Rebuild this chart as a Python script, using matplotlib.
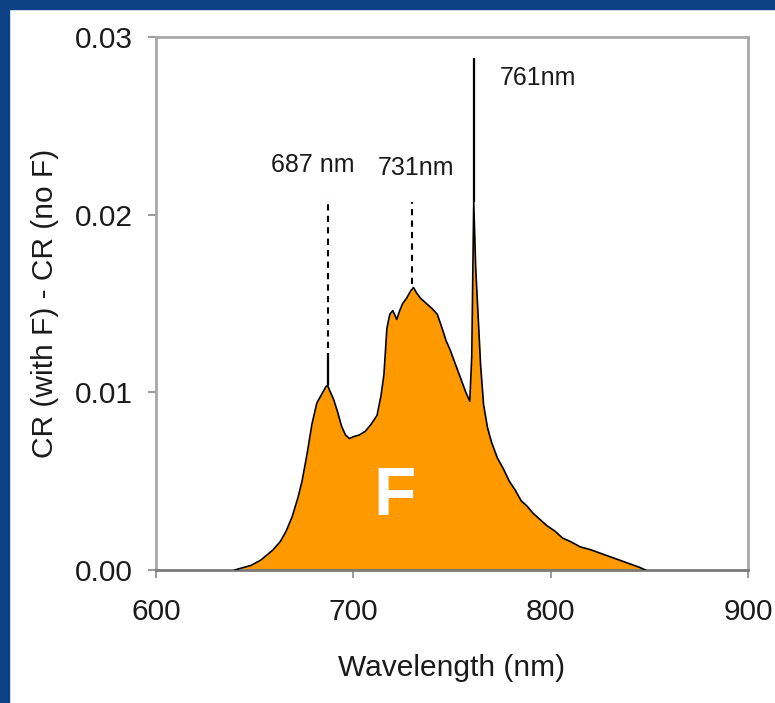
import numpy as np
import matplotlib
matplotlib.use("Agg")
import matplotlib.pyplot as plt
from matplotlib.patches import Rectangle

plt.rcParams['font.family'] = ['Liberation Sans', 'DejaVu Sans']

# fluorescence difference spectrum
wavelength = [640, 643, 648, 653, 659, 663, 666, 669, 672, 674, 676.5, 679, 681.5,
              684, 686, 687, 688, 690, 692, 694, 696, 698, 700, 703, 706, 709, 712,
              714, 715.5, 717, 718.5, 720, 722, 723.5, 725, 727, 729, 730.5, 732,
              734, 737, 740, 742.5, 745, 747, 749, 751, 753, 755, 757, 759, 760,
              761, 762, 763, 764.5, 766, 768, 770, 773, 776, 779, 782, 785, 788,
              791, 795, 798, 802, 806, 810, 815, 820, 825, 830, 835, 840, 845, 848]
cr_diff = [0.0, 0.1, 0.25, 0.55, 1.1, 1.6, 2.2, 3.0, 4.1, 5.0, 6.5, 8.2, 9.4,
           9.9, 10.3, 10.4, 10.1, 9.6, 8.9, 8.1, 7.6, 7.4, 7.5, 7.6, 7.8, 8.2, 8.7,
           9.8, 11.0, 13.6, 14.4, 14.6, 14.1, 14.6, 15.0, 15.3, 15.7, 15.9, 15.6,
           15.3, 15.0, 14.7, 14.4, 13.6, 12.9, 12.4, 11.8, 11.2, 10.6, 10.0, 9.5, 12.0,
           20.7, 17.0, 14.8, 11.5, 9.3, 8.0, 7.2, 6.3, 5.7, 5.0, 4.5, 3.9, 3.6,
           3.2, 2.8, 2.5, 2.2, 1.8, 1.6, 1.3, 1.15, 0.95, 0.75, 0.55, 0.35, 0.15, 0.0]
cr_diff = np.array(cr_diff) / 1000.0

# narrow spikes of the black line above the filled area
spike_nm = [687, 761]
spike_base = [0.0104, 0.0207]
spike_top = [0.0122, 0.0288]

# dashed markers and their labels
peak_nm = [687, 729.5]
peak_lo = [0.0125, 0.0161]
peak_hi = [0.0209, 0.0207]
labels = ['687 nm', '731nm', '761nm']
label_x = [679.6, 731.8, 793.6]
label_y = [0.0228, 0.0226, 0.0277]

fig = plt.figure(figsize=(7.75, 7.03), dpi=100)
ax = fig.add_axes([0.2013, 0.1892, 0.7639, 0.7582])

ax.fill_between(wavelength, 0, cr_diff, color='#ff9900', lw=0, zorder=2)
ax.plot(wavelength, cr_diff, color='black', lw=1.2, zorder=3)
ax.vlines(spike_nm, spike_base, spike_top, color='black', lw=1.6, zorder=3)
ax.vlines(peak_nm, peak_lo, peak_hi, color='black', lw=1.5,
          linestyles=(0, (3, 2.5)), zorder=3)

for t, x, y in zip(labels, label_x, label_y):
    ax.text(x, y, t, ha='center', va='center', fontsize=18, color='#1a1a1a')

ax.text(721, 0.0041, 'F', ha='center', va='center', fontsize=50,
        fontweight='bold', color='white', zorder=4)

ax.set_xlim(600, 900)
ax.set_ylim(0, 0.03)
ax.set_xticks([600, 700, 800, 900])
ax.set_yticks([0, 0.01, 0.02, 0.03])
ax.set_yticklabels(['0.00', '0.01', '0.02', '0.03'])
ax.tick_params(axis='both', direction='out', length=6, width=1.2,
               colors='#888888', labelcolor='#1a1a1a', labelsize=21.5)
ax.tick_params(axis='y', pad=11)
ax.tick_params(axis='x', pad=14)

for side in ['left', 'top', 'right']:
    ax.spines[side].set_color('#a8a8a8')
    ax.spines[side].set_linewidth(2)
ax.spines['bottom'].set_color('#7a7a7a')
ax.spines['bottom'].set_linewidth(2)

ax.set_xlabel('Wavelength (nm)', fontsize=21.5, color='#1a1a1a', labelpad=20)
ax.set_ylabel('CR (with F) - CR (no F)', fontsize=21.5, color='#1a1a1a', labelpad=11)

# blue slide border at top and left
fig.patches.append(Rectangle((0, 1 - 9 / 703), 1, 9 / 703, transform=fig.transFigure,
                             color='#0c4286', zorder=10))
fig.patches.append(Rectangle((0, 0), 9 / 775, 1, transform=fig.transFigure,
                             color='#0c4286', zorder=10))

fig.savefig('out.png', dpi=100)
